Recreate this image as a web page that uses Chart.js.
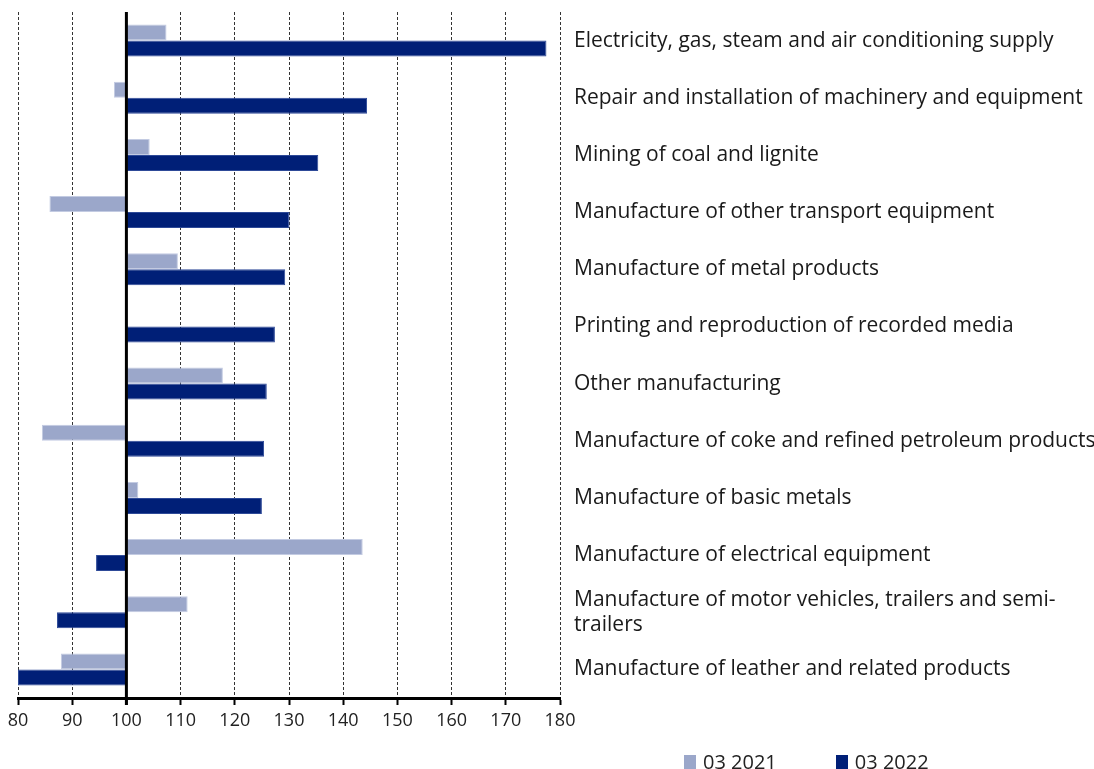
<!DOCTYPE html>
<html>
<head>
<meta charset="utf-8">
<script src="https://cdn.jsdelivr.net/npm/chart.js"></script>
<style>
  body { margin: 0; background: #fff; }
  #wrap { position: relative; width: 1094px; height: 769px; }
  #legend { position: absolute; left: 684px; top: 749px; display: flex; font-family: 'Open Sans', sans-serif; font-size: 20px; color: #222; line-height: 26px; }
  #legend .item { display: flex; align-items: center; margin-right: 59px; }
  #legend .box { width: 12px; height: 14px; margin-right: 7px; }
</style>
</head>
<body>
<div id="wrap">
  <canvas id="barChart" width="1094" height="769"></canvas>
  <div id="legend"></div>
</div>
<script>
const categories = [
  'Electricity, gas, steam and air conditioning supply',
  'Repair and installation of machinery and equipment',
  'Mining of coal and lignite',
  'Manufacture of other transport equipment',
  'Manufacture of metal products',
  'Printing and reproduction of recorded media',
  'Other manufacturing',
  'Manufacture of coke and refined petroleum products',
  'Manufacture of basic metals',
  'Manufacture of electrical equipment',
  ['Manufacture of motor vehicles, trailers and semi-', 'trailers'],
  'Manufacture of leather and related products'
];
const seriesNames = ['03 2021', '03 2022'];
const values2021 = [107.4, 97.7, 104.3, 85.8, 109.5, 100, 117.8, 84.4, 102.2, 143.6, 111.3, 87.9];
const values2022 = [177.5, 144.4, 135.4, 130.1, 129.3, 127.4, 125.9, 125.4, 125.0, 94.4, 87.2, 80.0];
const baseValue = 100;
const xMin = 80, xMax = 180, xStep = 10;

const fontFamily = "'Open Sans', sans-serif";
const lightBlue = '#9BA7CA';
const darkBlue = '#001F77';

// solid black line at the base value (100)
const baseLine = {
  id: 'baseLine',
  afterDatasetsDraw(chart) {
    const { ctx, chartArea, scales: { x } } = chart;
    const px = x.getPixelForValue(baseValue);
    ctx.save();
    ctx.strokeStyle = '#000';
    ctx.lineWidth = 3;
    ctx.beginPath();
    ctx.moveTo(px, chartArea.top);
    ctx.lineTo(px, chartArea.bottom + 7);
    ctx.stroke();
    ctx.restore();
  }
};

const ctx = document.getElementById('barChart').getContext('2d');
const chart = new Chart(ctx, {
  type: 'bar',
  data: {
    labels: categories,
    datasets: [{
      label: seriesNames[0],
      data: values2021.map(v => [baseValue, v]),
      backgroundColor: lightBlue,
      borderColor: '#C3CBE2',
      borderWidth: 1,
      borderSkipped: false
    }, {
      label: seriesNames[1],
      data: values2022.map(v => [baseValue, v]),
      backgroundColor: darkBlue,
      borderColor: '#2E4A98',
      borderWidth: 1,
      borderSkipped: false
    }]
  },
  options: {
    indexAxis: 'y',
    responsive: false,
    animation: false,
    barPercentage: 1,
    categoryPercentage: 0.56,
    layout: { padding: { top: 12, left: 18, right: 0, bottom: 0 } },
    plugins: {
      legend: { display: false },
      tooltip: { enabled: false }
    },
    scales: {
      x: {
        min: xMin,
        max: xMax,
        ticks: { stepSize: xStep, color: '#222', font: { family: fontFamily, size: 18 }, padding: 5 },
        grid: { color: '#333', lineWidth: 1, tickLength: 7, tickColor: '#000', tickWidth: 2, tickBorderDash: [] },
        border: { display: true, color: '#000', width: 3, dash: [3, 2] },
        afterFit(scale) { scale.height = 71; }
      },
      y: {
        position: 'right',
        grid: { display: false, drawTicks: false },
        border: { display: false },
        ticks: { color: '#1a1a1a', autoSkip: false, padding: 14, font: { family: fontFamily, size: 21, lineHeight: 1.2 } },
        afterFit(scale) {
          scale.width = 534;
          scale.paddingTop = 0;
          scale.paddingBottom = 0;
        }
      }
    }
  },
  plugins: [baseLine]
});

// legend
const legendEl = document.getElementById('legend');
chart.data.datasets.forEach(ds => {
  const item = document.createElement('div');
  item.className = 'item';
  const box = document.createElement('span');
  box.className = 'box';
  box.style.background = ds.backgroundColor;
  const txt = document.createElement('span');
  txt.textContent = ds.label;
  item.appendChild(box);
  item.appendChild(txt);
  legendEl.appendChild(item);
});
</script>
</body>
</html>
